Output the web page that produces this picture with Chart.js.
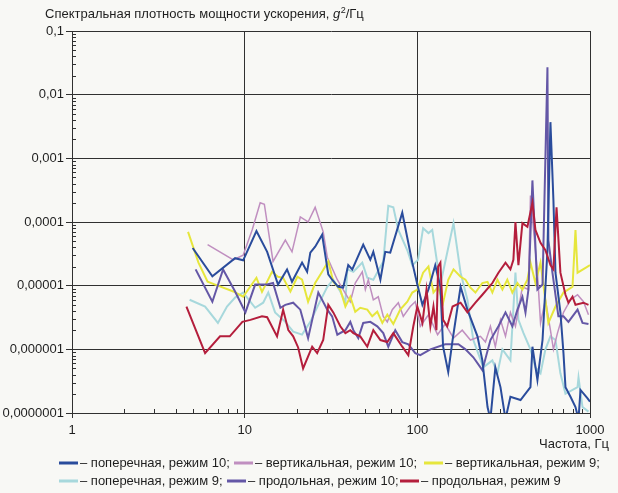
<!DOCTYPE html>
<html><head><meta charset="utf-8">
<script src="https://cdn.jsdelivr.net/npm/chart.js@4/dist/chart.umd.min.js"></script>
<style>html,body{margin:0;padding:0;background:#f8f8f5;}canvas{display:block}</style>
</head><body>
<canvas id="c" width="618" height="493"></canvas>
<script>
// ---- texts ----
const titleMain = "Спектральная плотность мощности ускорения, ";
const titleVar = "g";
const titleSup = "2";
const titleUnit = "/Гц";
const xAxisTitle = "Частота, Гц";
const xTickValues = [1, 10, 100, 1000];
const xTickLabels = ["1", "10", "100", "1000"];
const yTickValues = [1e-7, 1e-6, 1e-5, 1e-4, 1e-3, 1e-2, 1e-1];
const yTickLabels = ["0,0000001", "0,000001", "0,00001", "0,0001", "0,001", "0,01", "0,1"];
const seriesNames = ["поперечная, режим 10", "вертикальная, режим 10", "вертикальная, режим 9",
                     "поперечная, режим 9", "продольная, режим 10", "продольная, режим 9"];

// ---- data: frequency (Hz) and PSD (g^2/Hz) per series ----
const freqTrans10 = [5.0, 6.5, 8.8, 9.8, 11.7, 13.5, 15.6, 17.6, 18.8, 21.5, 23, 24, 25.6, 28.1, 30.5, 32.1, 34.8, 37.2, 39.8, 42, 48.6, 53.4, 55.6, 61.1, 65.2, 69.7, 81.8, 93.5, 100, 107, 116, 127, 136, 141, 151, 160, 178, 195, 223, 238, 255, 265, 283, 303, 324, 346, 396, 452, 464, 496, 531, 567, 590, 614, 631, 674, 702, 721, 771, 824, 858, 881, 968, 1000];
const psdTrans10 = [3.9e-5, 1.4e-5, 2.7e-5, 2.5e-5, 7.2e-5, 3.4e-5, 1.04e-5, 1.8e-5, 1.15e-5, 2.3e-5, 1.65e-5, 3.3e-5, 4.1e-5, 6.3e-5, 1.5e-5, 1.24e-5, 9.6e-6, 9.3e-6, 2.1e-5, 1.8e-5, 4.4e-5, 2.55e-5, 3.4e-5, 1.24e-5, 3.4e-5, 3.3e-5, 1.4e-4, 2.3e-5, 1.04e-5, 5e-6, 8.7e-6, 2.1e-5, 9.6e-6, 1.1e-6, 4.4e-7, 1.4e-6, 9.6e-6, 4.2e-6, 1.6e-6, 6.7e-7, 1.24e-7, 8e-8, 5.2e-7, 2.55e-7, 8e-8, 1.8e-7, 1.6e-7, 2.55e-7, 1.1e-6, 3.3e-7, 1.4e-6, 3.6e-5, 3.7e-3, 2.2e-4, 1.6e-5, 3.8e-6, 8.7e-7, 2.55e-7, 1.8e-7, 1.24e-7, 8e-8, 2.3e-7, 1.7e-7, 1.5e-7];

const freqVert10 = [6.1, 8.6, 9.8, 11.05, 12.3, 13, 14.6, 17.2, 18.8, 21, 23.3, 25.6, 28.5, 30.1, 34.4, 37.2, 40.9, 43.7, 48, 50, 52, 55.6, 59.4, 63.5, 67, 71.6, 77.6, 82.9, 91, 97.3, 104, 116, 131, 145, 162, 182, 203, 232, 248, 265, 283, 303, 324, 346, 370, 406, 440, 452, 496, 517, 552, 590, 614, 648, 702, 771, 847, 917, 980];
const psdVert10 = [4.4e-5, 2.55e-5, 3e-5, 7.5e-5, 2e-4, 1.9e-4, 2.4e-5, 5.2e-5, 3.4e-5, 1.2e-4, 1e-4, 1.7e-4, 7e-5, 2.8e-5, 1.24e-5, 8.7e-6, 5.6e-6, 1.1e-5, 1.65e-5, 8.7e-6, 1.24e-5, 6e-6, 6.7e-6, 3.3e-6, 2.7e-6, 4.2e-6, 5.4e-6, 3.3e-6, 4.7e-6, 5.6e-6, 2.3e-6, 3.5e-6, 1.7e-6, 2.5e-6, 1.5e-6, 2e-6, 1.4e-6, 1.6e-6, 1.3e-6, 2.3e-6, 1.1e-6, 2.9e-6, 1.6e-6, 3.8e-6, 2.3e-6, 9.6e-6, 8.7e-6, 2.6e-4, 1.6e-5, 2.6e-6, 6e-6, 2e-6, 1e-6, 1.8e-6, 3.8e-6, 6e-6, 7.2e-6, 5.6e-6, 3.5e-6];

const freqVert9 = [4.7, 5.4, 6.1, 6.75, 8.6, 9.8, 11.7, 12.6, 14.4, 15.6, 16.7, 18.4, 20.2, 21.5, 23.3, 25.6, 28.1, 30.5, 32.6, 35.8, 38.3, 40.9, 43.7, 46.7, 51.3, 54.8, 58.6, 62.7, 67, 72.6, 79.6, 87.5, 93.5, 100, 108, 116, 124, 132, 141, 151, 162, 178, 190, 203, 217, 238, 255, 272, 291, 311, 332, 355, 380, 406, 434, 452, 483, 517, 574, 631, 702, 792, 824, 847, 942, 1000];
const psdVert9 = [7e-5, 2.3e-5, 1.15e-5, 1.04e-5, 8.1e-6, 6.7e-6, 1.33e-5, 8e-6, 1.65e-5, 1.38e-5, 1.33e-5, 8.1e-6, 1.38e-5, 1.24e-5, 5.6e-6, 1.1e-5, 1.65e-5, 2.4e-5, 1.15e-5, 8.7e-6, 4.7e-6, 6.7e-6, 3.9e-6, 4.5e-6, 4.2e-6, 3.3e-6, 3.9e-6, 2.6e-6, 3.5e-6, 2.5e-6, 4.2e-6, 5.6e-6, 7.8e-6, 8.7e-6, 1.6e-5, 2e-5, 7.8e-6, 9.6e-6, 5.4e-6, 1.24e-5, 1.8e-5, 1.38e-5, 1.24e-5, 9.3e-6, 7.8e-6, 1.1e-5, 1.15e-5, 7.8e-6, 1.24e-5, 8.7e-6, 1.24e-5, 7.8e-6, 1.1e-5, 8.7e-6, 1.24e-5, 2.3e-5, 1.1e-5, 2.3e-5, 2.6e-6, 4.7e-6, 7.8e-6, 9.6e-6, 7.5e-5, 1.6e-5, 1.9e-5, 2.1e-5];

const freqTrans9 = [4.8, 5.9, 7.0, 7.9, 8.8, 9.8, 11.5, 12.8, 13.7, 15, 17.2, 19.1, 21.5, 24, 26.7, 30.1, 32.6, 35.8, 38.3, 39.3, 42.6, 48, 51.3, 55.6, 63.5, 67.9, 72.6, 77.6, 87.5, 93.5, 101, 108, 116, 122, 136, 162, 178, 195, 211, 241, 272, 291, 311, 346, 370, 385, 412, 452, 483, 517, 552, 590, 631, 674, 721, 847, 858, 905, 980];
const psdTrans9 = [6e-6, 4.7e-6, 2.6e-6, 4.7e-6, 6.5e-6, 7.8e-6, 4.5e-6, 5.4e-6, 7.8e-6, 3.8e-6, 2.7e-6, 1.9e-6, 1.7e-6, 2.7e-6, 5e-6, 9.6e-6, 1.24e-5, 8.1e-6, 5.4e-6, 1.8e-5, 1.65e-5, 2.3e-5, 1.33e-5, 1.24e-5, 2.4e-5, 1.8e-4, 1.7e-4, 7.5e-5, 3.6e-5, 2.1e-5, 2.55e-5, 8e-5, 6.7e-5, 7.5e-5, 1.04e-5, 9.6e-5, 1.6e-5, 6e-6, 1.4e-6, 5.2e-7, 6.7e-7, 4.2e-7, 1e-6, 6.7e-7, 1.6e-5, 2.9e-6, 1.8e-6, 1e-6, 5.2e-7, 4.2e-7, 1e-6, 1.6e-6, 1.4e-6, 4.2e-7, 2e-7, 2.55e-7, 3.6e-7, 1.24e-7, 1.05e-7];

const freqLong10 = [5.2, 6.5, 7.5, 8.8, 10.1, 11.5, 13.5, 14.6, 16.1, 17.2, 19.1, 21, 23.3, 26.7, 30.1, 32.1, 34.4, 38.3, 40.9, 42.6, 45.5, 48.6, 53.4, 58.6, 63.5, 67.9, 74.5, 81.8, 88.7, 97.3, 104, 119, 145, 173, 190, 211, 232, 238, 265, 295, 324, 355, 380, 406, 423, 440, 464, 496, 531, 567, 574, 606, 656, 702, 750, 847, 905, 980];
const psdLong10 = [1.8e-5, 5.6e-6, 1.8e-5, 8.1e-6, 3.8e-6, 1.04e-5, 1.04e-5, 1.1e-5, 4.5e-6, 5e-6, 5.4e-6, 4.2e-6, 1.5e-6, 7.8e-6, 4.2e-6, 3.3e-6, 1.7e-6, 2e-6, 2.7e-6, 2e-6, 1.5e-6, 2.6e-6, 2.7e-6, 2.3e-6, 1.8e-6, 1.1e-6, 2e-6, 1.3e-6, 1.2e-6, 8.7e-7, 8.1e-7, 1e-6, 1.2e-6, 1.2e-6, 1e-6, 7.5e-7, 5.2e-7, 4.7e-7, 1.4e-6, 2.3e-6, 3.8e-6, 2.3e-6, 4.2e-6, 6.7e-6, 3.8e-6, 8.7e-6, 4.5e-4, 8.7e-6, 1.04e-5, 2.7e-2, 5.2e-5, 1.6e-5, 3.3e-6, 3.3e-6, 2.7e-6, 4.2e-6, 2.6e-6, 2.5e-6];

const freqLong9 = [4.6, 5.9, 7.2, 8.2, 9.7, 10.8, 12.6, 13.5, 15.4, 16.7, 17.9, 19.1, 20.4, 21.8, 24.6, 26.3, 28.5, 30.5, 32.6, 35.8, 38.3, 40.9, 42.6, 46.7, 51.3, 55.6, 61.1, 67, 72.6, 81.8, 88.7, 94.8, 100, 107, 113, 119, 124, 129, 132, 136, 141, 149, 160, 178, 195, 217, 238, 258, 272, 295, 324, 346, 360, 370, 385, 406, 434, 464, 483, 517, 552, 590, 614, 640, 674, 721, 750, 792, 824, 917, 980];
const psdLong9 = [4.7e-6, 8.7e-7, 1.6e-6, 1.6e-6, 2.7e-6, 2.9e-6, 3.3e-6, 3.2e-6, 1.6e-6, 4.2e-6, 2e-6, 1.6e-6, 1.07e-6, 5e-7, 1.1e-6, 8.7e-7, 1.4e-6, 5e-6, 3.8e-6, 2.3e-6, 1.8e-6, 2e-6, 1.8e-6, 1.6e-6, 1.1e-6, 2e-6, 1.4e-6, 1.3e-6, 1.8e-6, 1.1e-6, 8.1e-7, 2.3e-6, 4.7e-6, 2.6e-6, 8.7e-6, 2.3e-6, 4.7e-6, 2e-6, 2e-5, 2.3e-5, 2.9e-6, 2.3e-6, 4.7e-6, 5.4e-6, 3.8e-6, 5.4e-6, 7.2e-6, 9.3e-6, 1.1e-5, 1.6e-5, 2.3e-5, 1.8e-5, 2.55e-5, 1e-4, 2.1e-5, 9.6e-5, 8.4e-5, 2e-4, 7.5e-5, 4.7e-5, 3.6e-5, 2.1e-5, 1.8e-5, 1.7e-4, 1.6e-5, 7.2e-6, 5.4e-6, 6.7e-6, 5e-6, 5.4e-6, 5e-6];

// ---- styling ----
const FONT = '"Liberation Sans", Arial, sans-serif';
const TEXT = '#1e1e1e';
const GRID = '#303030';
const colors = ['#2a4c9c', '#c08fc0', '#e6e63c', '#a7d8dc', '#6457a6', '#b41e3c'];
const widths = [2, 1.5, 2, 2, 2, 2];
const drawOrder = [1, 4, 3, 5, 2, 0];
const freqs = [freqTrans10, freqVert10, freqVert9, freqTrans9, freqLong10, freqLong9];
const psds = [psdTrans10, psdVert10, psdVert9, psdTrans9, psdLong10, psdLong9];

const datasets = seriesNames.map((name, k) => ({
  label: name,
  data: freqs[k].map((f, i) => ({x: f, y: psds[k][i]})),
  borderColor: colors[k],
  backgroundColor: colors[k],
  borderWidth: widths[k],
  pointRadius: 0,
  tension: 0,
  fill: false,
  order: drawOrder[k]
}));

// legend layout (row, x of swatch)
const legendRows = [463, 481];
const legendPos = [[0, 59], [0, 234], [0, 424], [1, 59], [1, 227], [1, 400]];

const bgPlugin = {
  id: 'bg',
  beforeDraw(c) {
    const ctx = c.ctx; ctx.save();
    ctx.fillStyle = '#f8f8f5'; ctx.fillRect(0, 0, c.width, c.height);
    ctx.restore();
  }
};

const decorPlugin = {
  id: 'decor',
  afterDraw(c) {
    const ctx = c.ctx, xs = c.scales.x, ys = c.scales.y, a = c.chartArea;
    ctx.save();
    // minor ticks (inside)
    ctx.strokeStyle = GRID; ctx.lineWidth = 1;
    ctx.beginPath();
    for (let d = 0; d < yTickValues.length - 1; d++) {
      for (let m = 2; m <= 9; m++) {
        const y = Math.round(ys.getPixelForValue(m * yTickValues[d])) + 0.5;
        ctx.moveTo(a.left, y); ctx.lineTo(a.left + 4, y);
      }
    }
    for (let d = 0; d < xTickValues.length - 1; d++) {
      for (let m = 2; m <= 9; m++) {
        const x = Math.round(xs.getPixelForValue(m * xTickValues[d])) + 0.5;
        ctx.moveTo(x, a.bottom); ctx.lineTo(x, a.bottom - 4);
      }
    }
    ctx.stroke();

    // title
    ctx.fillStyle = TEXT; ctx.textBaseline = 'alphabetic'; ctx.textAlign = 'left';
    let x = 45; const ty = 18;
    ctx.font = '13px ' + FONT; ctx.fillText(titleMain, x, ty); x += ctx.measureText(titleMain).width;
    ctx.font = 'italic 13px ' + FONT; ctx.fillText(titleVar, x, ty); x += ctx.measureText(titleVar).width + 0.5;
    ctx.font = '9px ' + FONT; ctx.fillText(titleSup, x, ty - 5); x += ctx.measureText(titleSup).width;
    ctx.font = '13px ' + FONT; ctx.fillText(titleUnit, x, ty);

    // x axis title
    ctx.textAlign = 'right'; ctx.textBaseline = 'middle';
    ctx.fillText(xAxisTitle, 609, 444);

    // legend
    ctx.textAlign = 'left';
    seriesNames.forEach((name, k) => {
      const [r, lx] = legendPos[k];
      const ly = legendRows[r];
      ctx.strokeStyle = colors[k]; ctx.lineWidth = 3;
      ctx.beginPath(); ctx.moveTo(lx, ly); ctx.lineTo(lx + 19, ly); ctx.stroke();
      ctx.fillStyle = TEXT;
      ctx.fillText('– ' + name + (k === seriesNames.length - 1 ? '' : ';'), lx + 21, ly);
    });
    ctx.restore();
  }
};

new Chart(document.getElementById('c'), {
  type: 'line',
  data: { datasets },
  options: {
    responsive: false,
    animation: false,
    devicePixelRatio: 1,
    layout: { padding: { top: 31, right: 28, left: 0, bottom: 0 } },
    plugins: { legend: { display: false }, tooltip: { enabled: false }, title: { display: false } },
    scales: {
      x: {
        type: 'logarithmic', min: 1, max: 1000,
        afterBuildTicks: s => { s.ticks = xTickValues.map(v => ({ value: v })); },
        afterFit: s => { s.height = 80; },
        ticks: { autoSkip: false, maxRotation: 0, padding: 5, color: TEXT,
                 font: { family: FONT, size: 13 },
                 callback: (v, i) => xTickLabels[i] },
        grid: { color: GRID, lineWidth: 1, tickLength: 5, drawTicks: true },
        border: { color: GRID, width: 1 }
      },
      y: {
        type: 'logarithmic', min: 1e-7, max: 0.1,
        afterBuildTicks: s => { s.ticks = yTickValues.map(v => ({ value: v })); },
        afterFit: s => { s.width = 72; },
        ticks: { autoSkip: false, padding: 2, color: TEXT,
                 font: { family: FONT, size: 13 },
                 callback: (v, i) => yTickLabels[i] },
        grid: { color: GRID, lineWidth: 1, tickLength: 6, drawTicks: true },
        border: { color: GRID, width: 1 }
      }
    }
  },
  plugins: [bgPlugin, decorPlugin]
});
</script>
</body></html>
